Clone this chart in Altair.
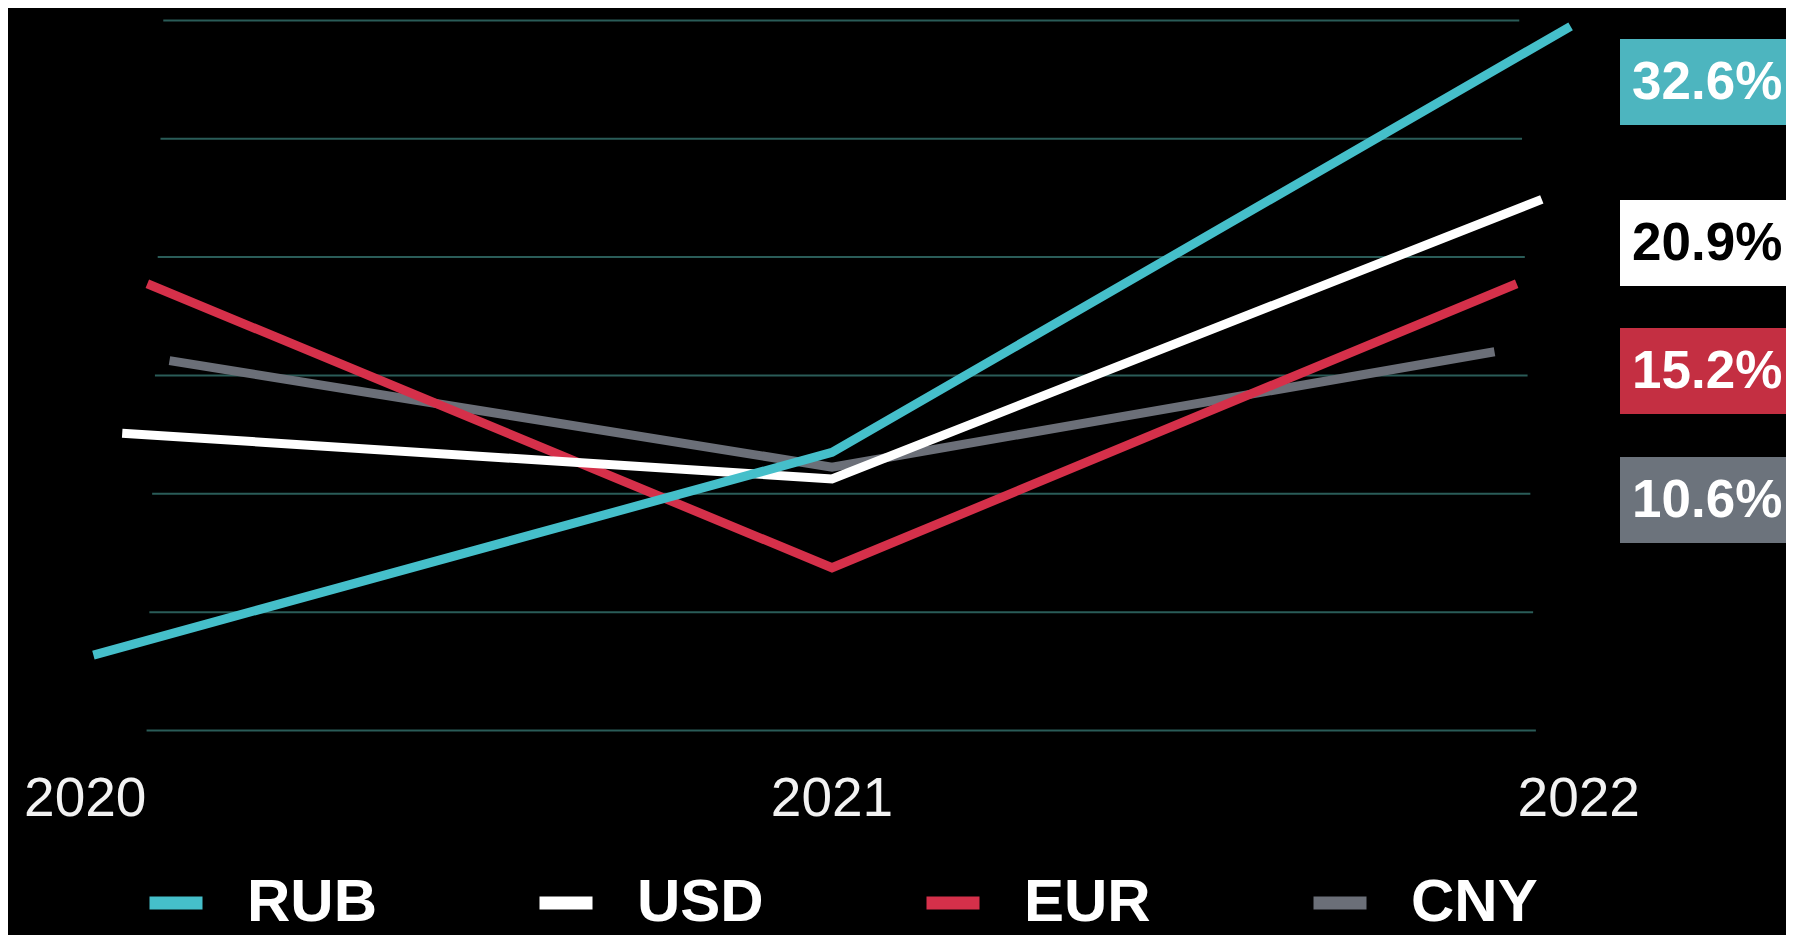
import altair as alt
import pandas as pd

# ---- data ----
years = [2020, 2021, 2022]
series = ["RUB", "USD", "EUR", "CNY"]
rub = [-9.9, 3.8, 32.6]
usd = [5.1, 2.0, 20.9]
eur = [15.2, -4.0, 15.2]
cny = [10.0, 2.8, 10.6]
grid_values = [33, 25, 17, 9, 1, -7, -15]

# ---- styles / layout ----
line_colors = {"RUB": "#45bfca", "USD": "#ffffff", "EUR": "#d5304a", "CNY": "#6b6f78"}
box_colors = {"RUB": "#4db5bf", "USD": "#ffffff", "EUR": "#c42f42", "CNY": "#6c737c"}
box_text_colors = {"RUB": "#ffffff", "USD": "#000000", "EUR": "#ffffff", "CNY": "#ffffff"}
box_centers = {"RUB": 74, "USD": 235, "EUR": 363, "CNY": 492}
depth = {"RUB": 1.0, "USD": 0.961, "EUR": 0.927, "CNY": 0.897}

rows = []
for name, vals in [("CNY", cny), ("EUR", eur), ("USD", usd), ("RUB", rub)]:
    for yr, v in zip(years, vals):
        rows.append({"series": name, "year": yr, "value": v})
df = pd.DataFrame(rows)

depth_expr = " : ".join(f"datum.series === '{k}' ? {v}" for k, v in depth.items()) + " : 1"

W, H = 1778, 927
xs = alt.Scale(domain=[2020, 2022], range=[85.4, 1562.6], zero=False, nice=False)
ys = alt.Scale(domain=[-15, 33], range=[722.5, 12.4], zero=False, nice=False)

grid = alt.Chart(pd.DataFrame({"g": grid_values})).transform_calculate(
    xl="2021 - (0.9054 + (33 - datum.g) / 48 * 0.0226)",
    xr="2021 + (0.9305 + (33 - datum.g) / 48 * 0.0225)",
).mark_rule(color="#2a5c58", strokeWidth=2).encode(
    x=alt.X("xl:Q", scale=xs, axis=None),
    x2="xr:Q",
    y=alt.Y("g:Q", scale=ys, axis=None),
)

lines = alt.Chart(df).transform_calculate(
    xpos=f"2021 + (datum.year - 2021) * ({depth_expr})"
).mark_line(strokeWidth=9, strokeCap="butt", strokeJoin="miter").encode(
    x=alt.X("xpos:Q", scale=xs, axis=None),
    y=alt.Y("value:Q", scale=ys, axis=None),
    color=alt.Color(
        "series:N",
        scale=alt.Scale(domain=series, range=[line_colors[s] for s in series]),
        legend=alt.Legend(
            orient="none", legendX=135, legendY=862, direction="horizontal",
            columns=4, title=None, symbolType="stroke", symbolSize=2809,
            symbolStrokeWidth=13, labelFont="Liberation Sans",
            labelFontWeight="bold", labelFontSize=60, labelColor="#ffffff",
            labelOffset=38, columnPadding=136, padding=0, labelLimit=400,
            symbolOpacity=1,
        ),
    ),
    order="year:Q",
)

year_labels = alt.Chart(pd.DataFrame({"year": years})).transform_calculate(
    xpos="2021 + (datum.year - 2021) * 1.011",
    lab="'' + datum.year",
).mark_text(font="Liberation Sans", fontSize=55, color="#f2f2f2", baseline="middle").encode(
    x=alt.X("xpos:Q", scale=xs, axis=None),
    y=alt.value(791),
    text="lab:N",
)

layers = [grid, lines, year_labels]
for s in series:
    c = box_centers[s]
    base = alt.Chart(df).transform_filter(
        f"datum.series === '{s}' && datum.year === 2022"
    ).transform_calculate(lab="format(datum.value, '.1f') + '%'")
    box = base.mark_rect(color=box_colors[s]).encode(
        x=alt.value(1612), x2=alt.value(W), y=alt.value(c - 43), y2=alt.value(c + 43)
    )
    txt = base.mark_text(
        font="Liberation Sans", fontWeight="bold", fontSize=53,
        color=box_text_colors[s], align="left", baseline="middle",
    ).encode(x=alt.value(1624), y=alt.value(c + 1), text="lab:N")
    layers += [box, txt]

chart = alt.layer(*layers).properties(
    width=W, height=H, padding=0, background="#000000",
    autosize=alt.AutoSizeParams(type="none"),
).configure_view(strokeWidth=0)

chart.save("out.html", embed_options={"renderer": "svg", "actions": False})
